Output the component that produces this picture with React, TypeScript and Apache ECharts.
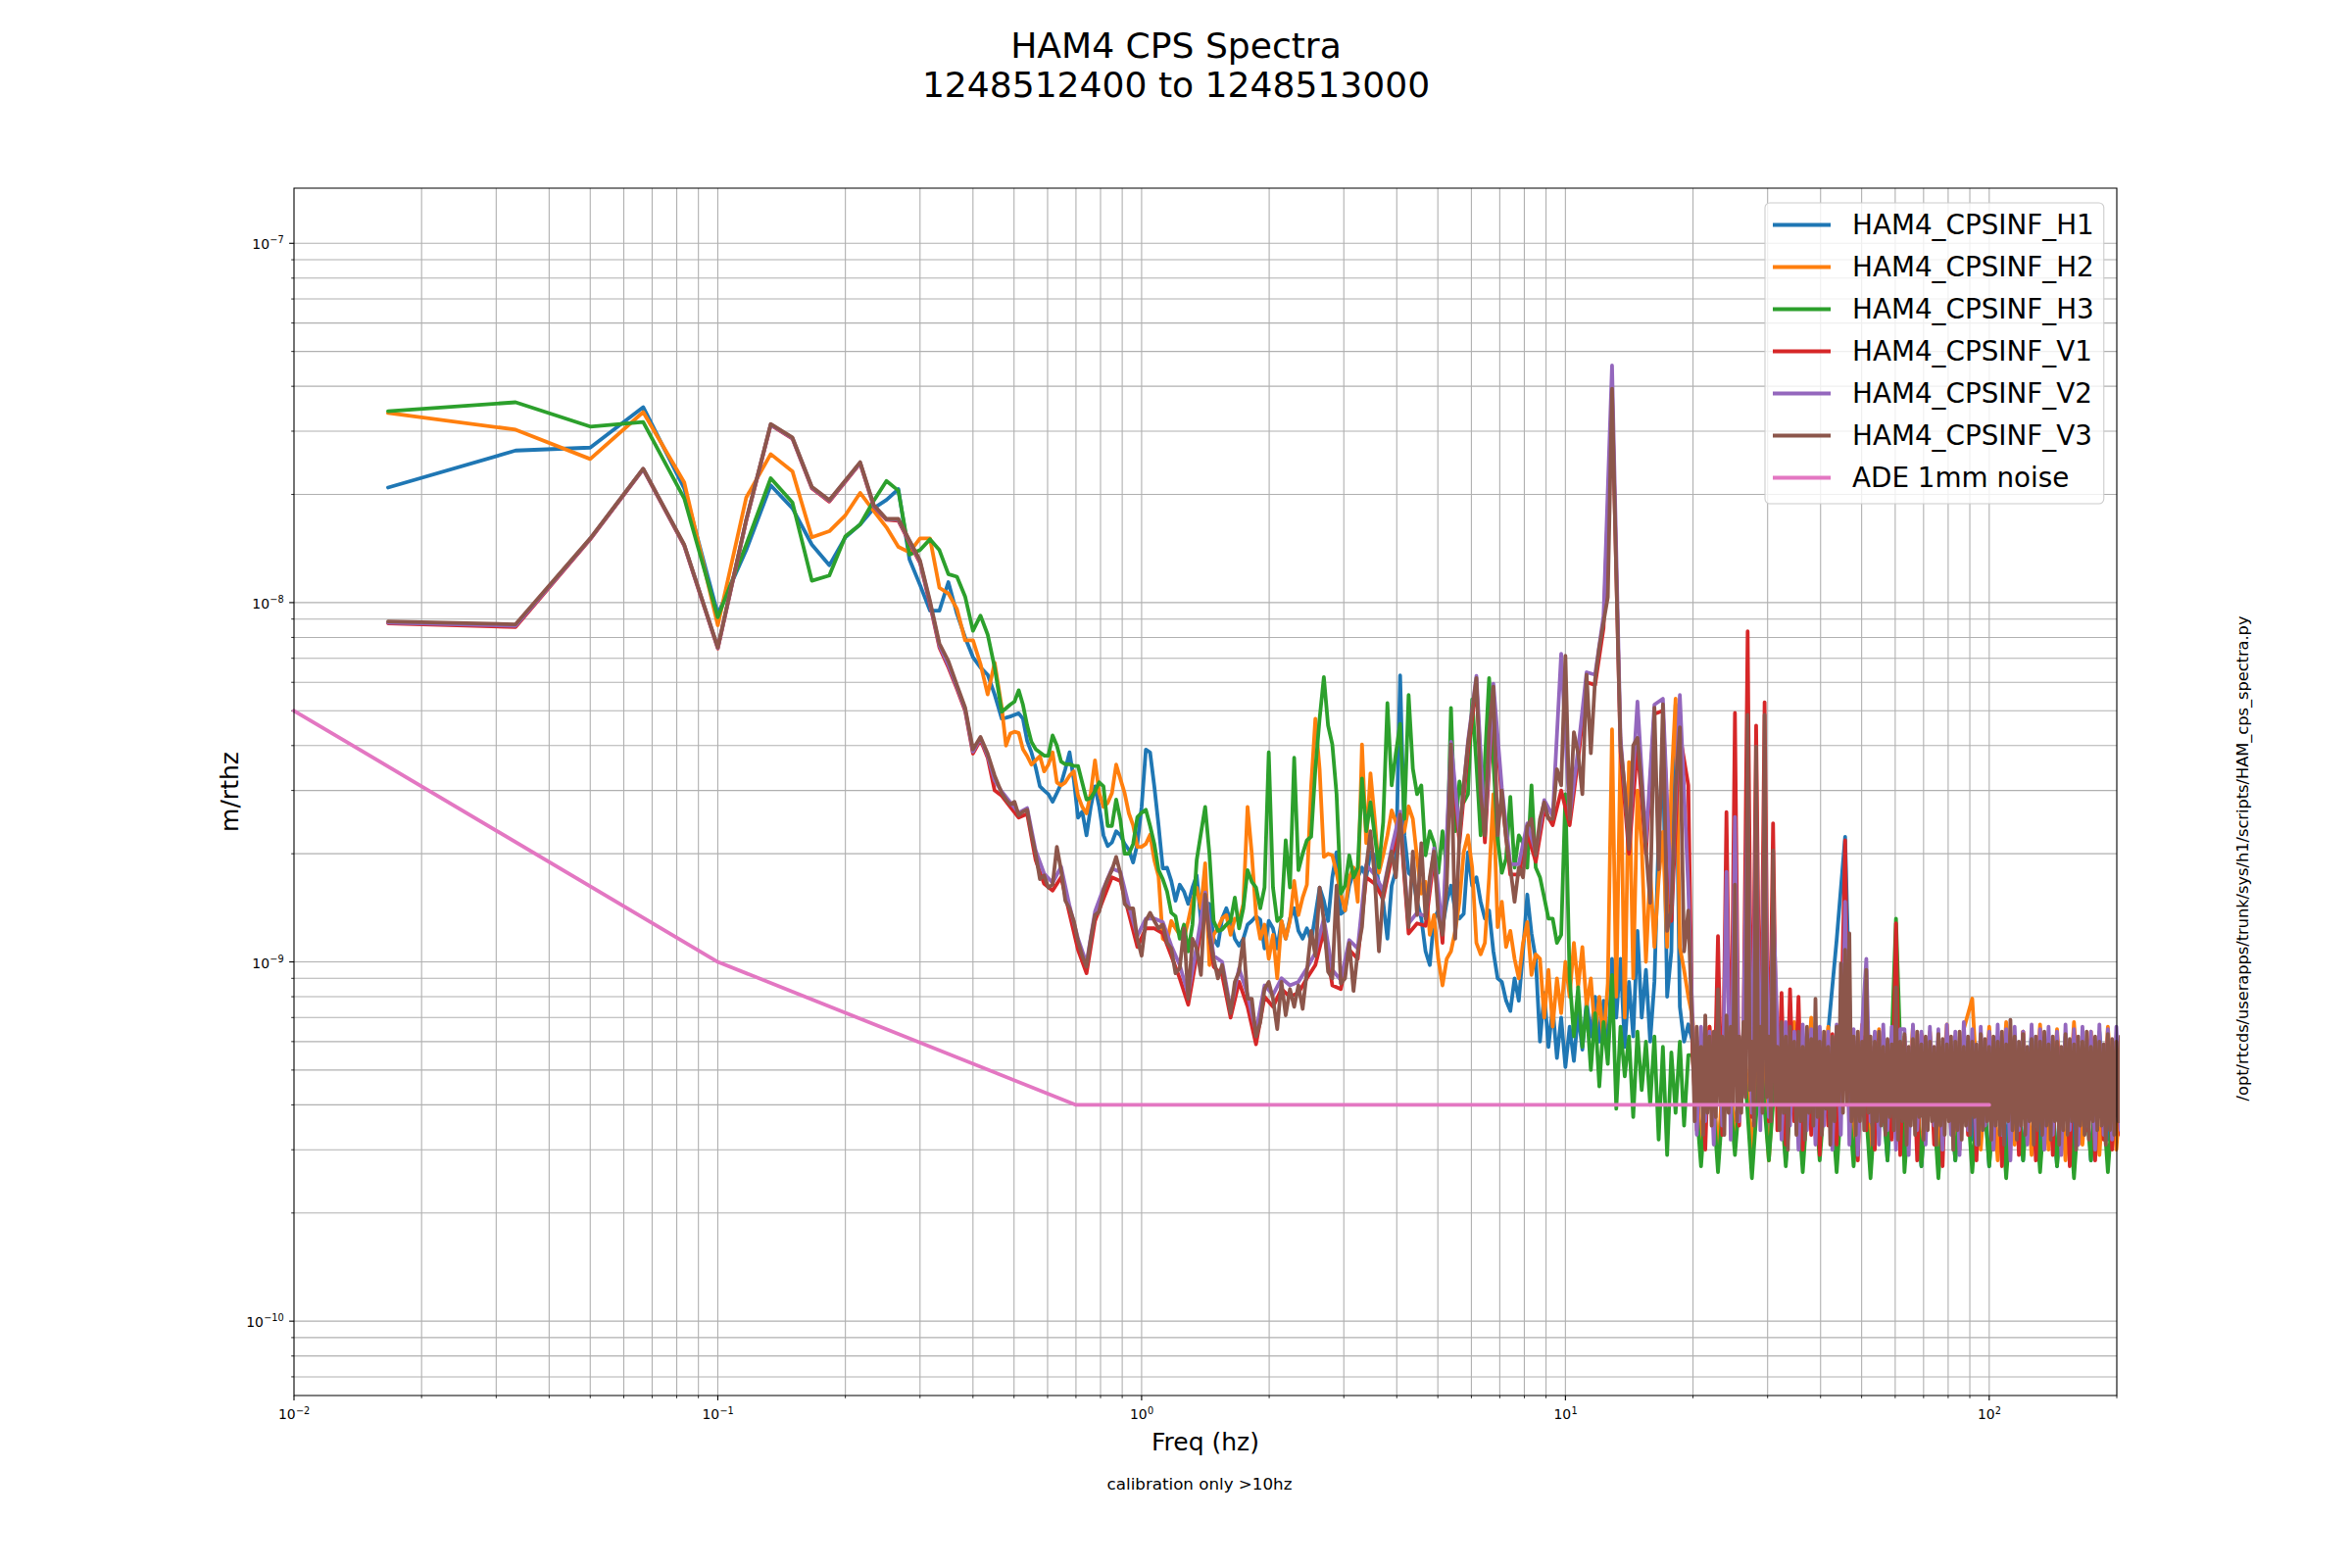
import React, { useEffect, useRef } from 'react';
import * as echarts from 'echarts';

const F = "'DejaVu Sans', 'Noto Sans', sans-serif";

const TITLE_LINES = ['HAM4 CPS Spectra', '1248512400 to 1248513000'];
const X_LABEL = 'Freq (hz)';
const Y_LABEL = 'm/rthz';
const FOOTNOTE = 'calibration only >10hz';
const SCRIPT_PATH = '/opt/rtcds/userapps/trunk/sys/h1/scripts/HAM_cps_spectra.py';

const SERIES_NAMES = [
  'HAM4_CPSINF_H1',
  'HAM4_CPSINF_H2',
  'HAM4_CPSINF_H3',
  'HAM4_CPSINF_V1',
  'HAM4_CPSINF_V2',
  'HAM4_CPSINF_V3',
  'ADE 1mm noise',
];
const COLORS = ['#1f77b4', '#ff7f0e', '#2ca02c', '#d62728', '#9467bd', '#8c564b', '#e377c2'];
const LINE_W = 3.8;

// axis ranges and tick labels
const X_MIN = 0.01;
const X_MAX = 200;
const Y_MIN = 6.21e-11;
const Y_MAX = 1.424e-7;
const X_TICKS = [0.01, 0.1, 1, 10, 100];
const X_TICK_EXP = ['\u22122', '\u22121', '0', '1', '2'];
const Y_TICKS = [1e-10, 1e-9, 1e-8, 1e-7];
const Y_TICK_EXP = ['\u221210', '\u22129', '\u22128', '\u22127'];

// ---------------- data (values in units of 1e-11 m/rthz) ----------------
const UNIT = 1e-11;

// lowest FFT bins (1/60 Hz resolution)
const LOW_F = [0.01667, 0.03333, 0.05, 0.06667, 0.08333, 0.1, 0.1167, 0.1333, 0.15, 0.1667, 0.1833, 0.2, 0.2167, 0.2333, 0.25, 0.2667, 0.2833, 0.3, 0.3167, 0.3333, 0.35, 0.3667, 0.3833, 0.4, 0.4167, 0.4333, 0.45];

// sampling grids (log10 of frequency): mid range 0.47–19.5 Hz, band 20–200 Hz
const MID_LOG_START = -0.33;
const BAND_LOG_START = 1.3;

const H1_LOW = [2090, 2650, 2700, 3500, 2080, 930, 1400, 2120, 1830, 1450, 1270, 1520, 1650, 1830, 1930, 2070, 1320, 1120, 950, 950, 1140, 930, 800, 705, 660, 630, 555];
const H1_MID = [
  475, 478, 482, 487, 492, 475, 412, 383, 348, 308,
  300, 293, 279, 295, 313, 344, 383, 322, 252, 262,
  225, 270, 308, 270, 225, 210, 215, 231, 225, 213,
  205, 189, 213, 270, 390, 383, 308, 240, 182, 183,
  168, 148, 164, 157, 145, 161, 174, 130, 146, 145,
  116, 111, 132, 141, 130, 116, 111, 116, 127, 130,
  134, 131, 109, 130, 124, 109, 130, 116, 132, 141,
  122, 116, 124, 114, 135, 161, 148, 130, 172, 202,
  136, 139, 163, 177, 172, 183, 172, 202, 198, 163,
  147, 116, 163, 180, 627, 225, 177, 172, 147, 132,
  107, 98, 132, 139, 125, 147, 163, 139, 132, 136,
  202, 163, 172, 147, 132, 139, 107, 90, 88, 78,
  73, 90, 78, 107, 154, 120, 102, 60, 82, 58,
  75, 54, 70, 51, 66, 53, 72, 57, 78, 62,
  80, 60, 78, 55, 102, 70, 102, 58, 88, 62,
  122, 70, 95, 60, 88, 225, 403, 80, 107, 520,
  75, 60, 67,
];
const H1_BAND = [
  60, 30, 64, 28, 62, 33, 58, 29, 63, 31,
  60, 28, 62, 32, 59, 30, 64, 115, 223, 29,
  61, 33, 60, 28, 63, 31, 58, 27, 62, 30,
  60, 28, 64, 32, 59, 27, 62, 30, 61, 28,
  63, 31, 60, 27, 62, 30, 59, 28, 64, 32,
  60, 29,
];

const H2_LOW = [3370, 3030, 2510, 3390, 2160, 865, 1960, 2590, 2320, 1520, 1580, 1750, 2020, 1800, 1620, 1430, 1380, 1510, 1510, 1100, 1060, 960, 785, 785, 675, 555, 680];
const H2_MID = [
  510, 400, 432, 437, 434, 391, 374, 354, 364, 374,
  339, 354, 383, 316, 310, 316, 330, 339, 290, 270,
  259, 295, 364, 295, 270, 277, 295, 354, 323, 295,
  259, 240, 209, 209, 213, 226, 192, 173, 116, 114,
  130, 124, 119, 116, 130, 148, 161, 141, 188, 98,
  119, 124, 132, 135, 119, 132, 130, 145, 270, 200,
  135, 116, 127, 102, 119, 90, 130, 116, 130, 168,
  135, 151, 164, 308, 475, 344, 196, 200, 198, 177,
  155, 139, 172, 183, 147, 403, 214, 335, 250, 177,
  198, 225, 264, 245, 225, 231, 271, 250, 194, 155,
  167, 119, 135, 102, 86, 102, 107, 122, 147, 202,
  225, 183, 113, 105, 113, 172, 293, 125, 147, 110,
  122, 102, 90, 113, 129, 92, 105, 102, 70, 95,
  66, 90, 72, 100, 80, 113, 85, 110, 75, 90,
  63, 80, 60, 87, 444, 80, 400, 70, 360, 90,
  300, 210, 100, 180, 110, 170, 230, 110, 310, 540,
  110, 95, 80,
];
const H2_BAND = [
  70, 30, 66, 29, 68, 32, 64, 30, 67, 28,
  65, 31, 68, 29, 70, 30, 66, 28, 64, 31,
  67, 29, 65, 32, 68, 30, 66, 28, 64, 31,
  67, 29, 65, 79, 30, 66, 28, 68, 31, 64,
  29, 67, 30, 65, 28, 68, 31, 64, 29, 66,
  30, 65,
];

const H3_LOW = [3410, 3610, 3090, 3180, 1950, 910, 1450, 2220, 1900, 1150, 1190, 1530, 1650, 1920, 2180, 2050, 1360, 1400, 1500, 1400, 1200, 1180, 1040, 835, 920, 815, 660];
const H3_MID = [
  497, 508, 520, 530, 570, 520, 455, 410, 391, 383,
  375, 375, 427, 400, 361, 355, 355, 351, 351, 315,
  283, 286, 299, 316, 308, 239, 239, 283, 248, 200,
  200, 213, 253, 260, 265, 239, 213, 180, 170, 157,
  137, 134, 116, 127, 107, 127, 192, 228, 270, 200,
  130, 122, 123, 127, 130, 151, 124, 141, 180, 167,
  161, 141, 161, 383, 161, 130, 134, 218, 161, 370,
  180, 200, 218, 223, 344, 475, 620, 455, 403, 293,
  155, 163, 198, 172, 183, 324, 231, 278, 225, 183,
  245, 525, 310, 381, 460, 250, 553, 345, 293, 310,
  198, 231, 214, 177, 231, 183, 509, 231, 318, 278,
  293, 538, 355, 225, 362, 617, 362, 220, 177, 194,
  288, 183, 225, 214, 183, 310, 183, 172, 151, 132,
  132, 113, 119, 293, 90, 62, 85, 58, 75, 50,
  72, 45, 68, 52, 92, 39, 66, 48, 62, 37,
  64, 44, 60, 40, 62, 32, 58, 29, 56, 38,
  60, 35, 55,
];
const H3_BAND = [
  55, 27, 58, 26, 56, 29, 57, 25, 55, 28,
  58, 27, 56, 26, 57, 28, 55, 26, 58, 27,
  56, 25, 57, 28, 132, 26, 56, 27, 58, 25,
  55, 28, 57, 26, 56, 27, 58, 25, 55, 28,
  57, 26, 56, 27, 58, 25, 55, 28, 57, 26,
  56, 27,
];

const V1_LOW = [876, 855, 1500, 2350, 1440, 745, 1690, 3120, 2860, 2080, 1910, 2170, 2440, 1850, 1700, 1690, 1470, 1290, 990, 750, 660, 575, 500, 380, 415, 370, 300];
const V1_MID = [
  290, 270, 252, 258, 192, 165, 158, 172, 136, 108,
  93, 130, 150, 172, 168, 136, 110, 124, 124, 120,
  104, 90, 76, 104, 146, 97, 92, 70, 88, 75,
  59, 80, 75, 84, 80, 82, 90, 98, 122, 86,
  84, 108, 102, 172, 165, 150, 195, 245, 120, 128,
  126, 195, 113, 380, 215, 385, 590, 215, 560, 285,
  175, 175, 228, 190, 265, 240, 300, 240, 365, 600,
  590, 850, 3800, 385, 200, 400, 200, 490, 500, 130,
  430, 310,
];
const V1_BAND = [
  55, 34, 62, 30, 66, 36, 118, 33, 261, 38,
  493, 35, 60, 832, 37, 455, 40, 528, 36, 243,
  34, 82, 31, 84, 36, 80, 30, 60, 33, 62,
  29, 58, 35, 63, 31, 60, 218, 33, 60, 28,
  62, 34, 58, 30, 61, 36, 59, 32, 128, 29,
  62, 33, 60, 28, 63, 35, 58, 31, 61, 27,
  60, 34, 62, 30, 59, 33, 61, 28, 63, 35,
  58, 30, 60, 27, 62, 33, 59, 29, 64, 34,
  60, 28, 61, 32, 58, 29, 62, 35, 60, 27,
  63, 31, 59, 34, 61, 28, 60, 32, 62, 30,
  58, 33,
];

const V2_LOW = [880, 862, 1505, 2355, 1445, 748, 1695, 3130, 2870, 2090, 1920, 2180, 2450, 1860, 1705, 1700, 1480, 1300, 1000, 760, 670, 582, 505, 385, 420, 375, 320];
const V2_MID = [
  298, 278, 260, 268, 204, 176, 166, 184, 143, 116,
  99, 138, 160, 182, 178, 143, 118, 132, 132, 129,
  111, 98, 81, 111, 156, 104, 100, 74, 96, 81,
  64, 86, 81, 90, 86, 88, 96, 106, 132, 95,
  89, 115, 109, 186, 175, 158, 207, 262, 128, 137,
  134, 207, 121, 410, 229, 410, 625, 229, 595, 305,
  187, 187, 243, 202, 282, 255, 720, 255, 390, 640,
  630, 920, 4570, 420, 215, 530, 215, 520, 540, 145,
  553, 160,
];
const V2_BAND = [
  68, 33, 66, 36, 64, 31, 70, 35, 178, 32,
  253, 36, 66, 300, 38, 280, 34, 300, 37, 150,
  66, 32, 68, 35, 64, 30, 67, 34, 65, 31,
  66, 35, 64, 30, 67, 33, 147, 31, 65, 29,
  66, 102, 36, 64, 31, 67, 34, 66, 30, 65,
  65, 29, 67, 34, 64, 31, 66, 35, 65, 30,
  67, 33, 64, 29, 68, 34, 65, 31, 66, 35,
  64, 30, 67, 33, 65, 28, 66, 34, 64, 31,
  67, 35, 65, 30, 66, 33, 64, 29, 67, 34,
  65, 31, 66, 35, 64, 30, 67, 33, 65, 32,
  66, 34,
];

const V3_LOW = [886, 870, 1510, 2360, 1450, 750, 1700, 3140, 2880, 2100, 1930, 2190, 2460, 1870, 1710, 1710, 1490, 1310, 1010, 770, 687, 589, 511, 390, 423, 380, 330];
const V3_MID = [
  295, 283, 274, 279, 256, 262, 265, 227, 200, 170,
  174, 161, 164, 209, 180, 148, 141, 130, 114, 104,
  97, 116, 135, 138, 158, 170, 180, 196, 176, 145,
  141, 141, 116, 104, 130, 137, 130, 124, 127, 113,
  109, 93, 96, 124, 79, 116, 109, 92, 154, 119,
  102, 90, 98, 84, 72, 88, 94, 116, 79, 79,
  62, 68, 84, 88, 79, 65, 88, 71, 84, 75,
  86, 74, 94, 122, 104, 161, 130, 94, 90, 163,
  87, 90, 113, 83, 107, 125, 183, 231, 172, 107,
  155, 178, 203, 172, 257, 178, 125, 203, 135, 214,
  132, 172, 203, 135, 119, 163, 403, 116, 225, 310,
  403, 497, 617, 293, 225, 436, 584, 225, 300, 220,
  183, 147, 183, 172, 238, 250, 198, 250, 278, 250,
  250, 344, 310, 711, 250, 436, 381, 293, 630, 381,
  610, 753, 883, 1035, 3936, 1200, 400, 307, 206, 400,
  420, 307, 206, 146, 510, 181, 521, 122, 139, 307,
  450, 107, 139,
];
const V3_BAND = [
  60, 36, 66, 40, 58, 33, 71, 38, 62, 35,
  64, 37, 84, 40, 62, 33, 71, 38, 66, 40,
  164, 36, 62, 38, 68, 42, 487, 44, 60, 35,
  397, 40, 66, 38, 487, 42, 62, 36, 204, 40,
  58, 34, 68, 38, 62, 30, 66, 40, 60, 33,
  64, 36, 58, 32, 66, 38, 61, 35, 79, 37,
  60, 33, 64, 39, 58, 31, 62, 36, 66, 40,
  99, 38, 108, 40, 120, 36, 62, 33, 64, 36,
  60, 34, 95, 38, 62, 31, 60, 36, 64, 35,
  58, 33, 61, 37, 59, 34, 85, 32, 60, 36,
  63, 31, 58, 35, 61, 33, 64, 37, 59, 32,
  62, 34, 60, 36, 58, 31, 63, 35, 61, 33,
  59, 36, 62, 30, 60, 34, 64, 32, 58, 35,
  62, 33, 60, 37, 59, 31, 63, 34, 61, 36,
  58, 32, 62, 35, 60, 33, 64, 31, 59, 36,
  69, 34, 62, 32, 60, 35, 63, 33, 58, 36,
  61, 31, 62, 34, 60, 33, 64, 35, 59, 32,
  62, 36, 60, 31, 58, 34, 63, 33, 61, 36,
  59, 30, 62, 35, 60, 33, 64, 32, 58, 36,
  62, 34, 60, 35, 59, 31, 63, 34, 61, 33,
  60, 36, 62,
];

// ADE 1mm noise reference curve (corner points)
const ADE_F = [0.01, 0.1, 0.7, 100];
const ADE_V = [5e-9, 1e-9, 4e-10, 4e-10];

// ---------------- helpers ----------------
const logGrid = (start: number, step: number, n: number) =>
  Array.from({ length: n }, (_, i) => Number(Math.pow(10, start + step * i).toPrecision(6)));

function buildSeriesData(low: number[], mid: number[], midStep: number, band: number[], bandStep: number) {
  const pts: number[][] = [];
  LOW_F.forEach((f, i) => pts.push([f, low[i] * UNIT]));
  const mf = logGrid(MID_LOG_START, midStep, mid.length);
  mid.forEach((v, i) => pts.push([mf[i], v * UNIT]));
  const bf = logGrid(BAND_LOG_START, bandStep, band.length);
  band.forEach((v, i) => pts.push([bf[i], v * UNIT]));
  return pts;
}

function minorTicks(lo: number, hi: number) {
  const out: number[] = [];
  for (let e = Math.floor(Math.log10(lo)) - 1; e <= Math.ceil(Math.log10(hi)); e++) {
    for (let m = 2; m <= 9; m++) {
      const v = Number((m * Math.pow(10, e)).toPrecision(3));
      if (v >= lo * 0.999 && v <= hi * 1.001) out.push(v);
    }
  }
  return out;
}

const BASE_FS = 13.9;
const SUP_FS = 9.73;
const BASE_W = 2 * 0.636 * BASE_FS;
const supWidth = (s: string) =>
  s.split('').reduce((w, c) => w + (c === '\u2212' ? 0.838 : 0.636), 0) * SUP_FS;

const txt = (text: string, x: number, y: number, fontSize: number, align: string) => ({
  type: 'text',
  x,
  y,
  silent: true,
  style: {
    text,
    fontSize,
    fontFamily: F,
    fill: '#000',
    textAlign: align,
    textVerticalAlign: 'middle',
    align,
    verticalAlign: 'middle',
  },
});

function buildOption() {
  const series: any[] = [];
  const datasets = [
    buildSeriesData(H1_LOW, H1_MID, 0.01, H1_BAND, 0.02),
    buildSeriesData(H2_LOW, H2_MID, 0.01, H2_BAND, 0.02),
    buildSeriesData(H3_LOW, H3_MID, 0.01, H3_BAND, 0.02),
    buildSeriesData(V1_LOW, V1_MID, 0.02, V1_BAND, 0.01),
    buildSeriesData(V2_LOW, V2_MID, 0.02, V2_BAND, 0.01),
    buildSeriesData(V3_LOW, V3_MID, 0.01, V3_BAND, 0.005),
    ADE_F.map((f, i) => [f, ADE_V[i]]),
  ];

  // grid lines, ticks and tick labels drawn through the axes' own scales
  const xDeco = [
    ...X_TICKS.map((v, i) => [v, 1e-9, 1, i]),
    ...minorTicks(X_MIN, X_MAX).map((v) => [v, 1e-9, 0, -1]),
  ];
  const yDeco = [
    ...Y_TICKS.map((v, i) => [1, v, 1, i]),
    ...minorTicks(Y_MIN, Y_MAX).map((v) => [1, v, 0, -1]),
  ];

  series.push({
    type: 'custom',
    name: 'xdeco',
    silent: true,
    z: 1,
    data: xDeco,
    animation: false,
    renderItem: (params: any, api: any) => {
      const cs = params.coordSys;
      const px = api.coord([api.value(0), api.value(1)])[0];
      const major = api.value(2) === 1;
      const bottom = cs.y + cs.height;
      const children: any[] = [];
      if (px > cs.x + 1 && px < cs.x + cs.width - 1) {
        children.push({
          type: 'line',
          silent: true,
          shape: { x1: px, y1: cs.y, x2: px, y2: bottom },
          style: { stroke: '#b0b0b0', lineWidth: 1.1 },
        });
      }
      children.push({
        type: 'line',
        silent: true,
        shape: { x1: px, y1: bottom, x2: px, y2: bottom + (major ? 4.9 : 2.8) },
        style: { stroke: '#000', lineWidth: major ? 1.1 : 0.83 },
      });
      if (major) {
        const exp = X_TICK_EXP[api.value(3)];
        const total = BASE_W + supWidth(exp);
        const x0 = px - total / 2;
        children.push(txt('10', x0, bottom + 18.6, BASE_FS, 'left'));
        children.push(txt(exp, x0 + BASE_W + 0.3, bottom + 15.0, SUP_FS, 'left'));
      }
      return { type: 'group', children };
    },
  });

  series.push({
    type: 'custom',
    name: 'ydeco',
    silent: true,
    z: 1,
    data: yDeco,
    animation: false,
    renderItem: (params: any, api: any) => {
      const cs = params.coordSys;
      const py = api.coord([api.value(0), api.value(1)])[1];
      const major = api.value(2) === 1;
      const children: any[] = [];
      if (py > cs.y + 1 && py < cs.y + cs.height - 1) {
        children.push({
          type: 'line',
          silent: true,
          shape: { x1: cs.x, y1: py, x2: cs.x + cs.width, y2: py },
          style: { stroke: '#b0b0b0', lineWidth: 1.1 },
        });
      }
      children.push({
        type: 'line',
        silent: true,
        shape: { x1: cs.x - (major ? 4.9 : 2.8), y1: py, x2: cs.x, y2: py },
        style: { stroke: '#000', lineWidth: major ? 1.1 : 0.83 },
      });
      if (major) {
        const exp = Y_TICK_EXP[api.value(3)];
        const right = cs.x - 10.3;
        children.push(txt(exp, right, py - 3.4, SUP_FS, 'right'));
        children.push(txt('10', right - supWidth(exp) - 0.3, py + 1.2, BASE_FS, 'right'));
      }
      return { type: 'group', children };
    },
  });

  SERIES_NAMES.forEach((name, i) => {
    series.push({
      type: 'line',
      name,
      data: datasets[i],
      showSymbol: false,
      symbol: 'none',
      silent: true,
      clip: true,
      z: 2,
      animation: false,
      lineStyle: { width: LINE_W, color: COLORS[i], join: 'round', cap: 'round' },
      itemStyle: { color: COLORS[i] },
      emphasis: { disabled: true },
    });
  });

  return {
    animation: false,
    backgroundColor: '#ffffff',
    textStyle: { fontFamily: F },
    grid: {
      left: 300,
      top: 192,
      right: 240,
      bottom: 176,
      containLabel: false,
      outerBoundsMode: 'none',
      show: false,
    },
    xAxis: {
      type: 'log',
      logBase: 10,
      min: X_MIN,
      max: X_MAX,
      axisLine: { show: false },
      axisTick: { show: false },
      axisLabel: { show: false },
      splitLine: { show: false },
      axisPointer: { show: false },
    },
    yAxis: {
      type: 'log',
      logBase: 10,
      min: Y_MIN,
      max: Y_MAX,
      axisLine: { show: false },
      axisTick: { show: false },
      axisLabel: { show: false },
      splitLine: { show: false },
      axisPointer: { show: false },
    },
    legend: {
      data: SERIES_NAMES,
      orient: 'vertical',
      left: 1801,
      top: 207,
      icon: 'rect',
      itemWidth: 59,
      itemHeight: LINE_W,
      itemGap: 0,
      padding: [1, 10, 5, 8],
      selectedMode: false,
      backgroundColor: 'rgba(255,255,255,0.8)',
      borderColor: '#cccccc',
      borderWidth: 1.1,
      borderRadius: 5,
      itemStyle: { borderWidth: 0 },
      textStyle: {
        fontSize: 27.8,
        fontFamily: F,
        color: '#000',
        lineHeight: 43,
        padding: [0, 0, 0, 17],
      },
      z: 20,
    },
    graphic: {
      elements: [
        txt(TITLE_LINES[0], 1200, 46.8, 36.1, 'center'),
        txt(TITLE_LINES[1], 1200, 86.8, 36.1, 'center'),
        txt(X_LABEL, 1230, 1471, 25, 'center'),
        { ...txt(Y_LABEL, 234.4, 808, 25, 'center'), rotation: Math.PI / 2 },
        txt(FOOTNOTE, 1224, 1514, 16.7, 'center'),
        { ...txt(SCRIPT_PATH, 2288, 876, 16.2, 'center'), rotation: Math.PI / 2 },
        {
          type: 'rect',
          silent: true,
          z: 100,
          shape: { x: 300, y: 192, width: 1860, height: 1232 },
          style: { fill: 'none', stroke: '#000', lineWidth: 1.1 },
        },
      ],
    },
    series,
  };
}

export default function App() {
  const ref = useRef<HTMLDivElement>(null);
  useEffect(() => {
    if (!ref.current) return;
    const chart = echarts.init(ref.current, null, { renderer: 'svg', width: 2400, height: 1600 });
    chart.setOption(buildOption() as any);
    return () => chart.dispose();
  }, []);
  return (
    <div
      ref={ref}
      style={{ position: 'fixed', left: 0, top: 0, width: 2400, height: 1600, background: '#fff' }}
    />
  );
}
